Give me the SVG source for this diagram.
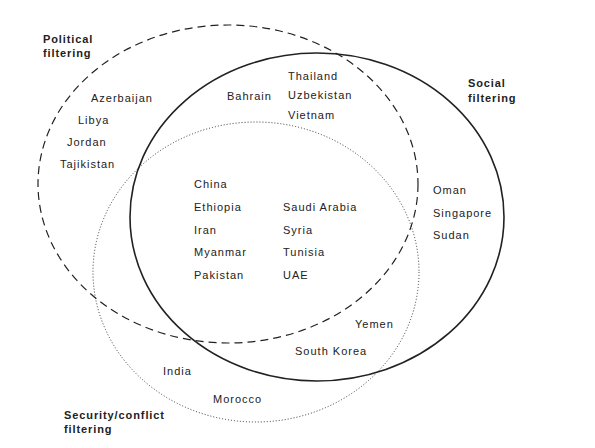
<svg xmlns="http://www.w3.org/2000/svg" width="595" height="448" viewBox="0 0 595 448">
<style>
.t{font-family:"Liberation Sans",Arial,sans-serif;font-size:11px;fill:#222;letter-spacing:1px}
.b{font-family:"Liberation Sans",Arial,sans-serif;font-size:11px;font-weight:bold;fill:#222;letter-spacing:0.9px}
.e{fill:none;stroke:#222}
</style>
<rect width="595" height="448" fill="#fff"/>
<g id="connectors">
<ellipse id="political" class="e" cx="228" cy="184" rx="190" ry="159" stroke-width="1.2" stroke-dasharray="8 5"/>
<ellipse id="social" class="e" cx="317" cy="217" rx="187" ry="164" stroke-width="1.6"/>
<ellipse id="security" class="e" cx="256" cy="272" rx="163" ry="150" stroke-width="0.9" stroke-dasharray="1 2"/>
</g>
<g id="label-political"><text class="b" x="43" y="43">Political</text><text class="b" x="43" y="57">filtering</text></g>
<g id="label-social"><text class="b" x="468" y="87">Social</text><text class="b" x="468" y="102">filtering</text></g>
<g id="label-security"><text class="b" x="64" y="419">Security/conflict</text><text class="b" x="64" y="433">filtering</text></g>
<g id="political-only">
<text class="t" x="91" y="102">Azerbaijan</text>
<text class="t" x="78" y="124">Libya</text>
<text class="t" x="67" y="146">Jordan</text>
<text class="t" x="60" y="168">Tajikistan</text>
</g>
<g id="political-social">
<text class="t" x="227" y="100">Bahrain</text>
<text class="t" x="288" y="80">Thailand</text>
<text class="t" x="288" y="99">Uzbekistan</text>
<text class="t" x="288" y="119">Vietnam</text>
</g>
<g id="all-three">
<text class="t" x="194" y="188">China</text>
<text class="t" x="194" y="211">Ethiopia</text>
<text class="t" x="194" y="234">Iran</text>
<text class="t" x="194" y="256">Myanmar</text>
<text class="t" x="194" y="279">Pakistan</text>
<text class="t" x="283" y="211">Saudi Arabia</text>
<text class="t" x="283" y="234">Syria</text>
<text class="t" x="283" y="256">Tunisia</text>
<text class="t" x="283" y="279">UAE</text>
</g>
<g id="social-only">
<text class="t" x="433" y="194">Oman</text>
<text class="t" x="433" y="217">Singapore</text>
<text class="t" x="433" y="239">Sudan</text>
</g>
<g id="social-security">
<text class="t" x="355" y="328">Yemen</text>
<text class="t" x="295" y="355">South Korea</text>
</g>
<g id="security-only">
<text class="t" x="163" y="375">India</text>
<text class="t" x="213" y="403">Morocco</text>
</g>
</svg>
